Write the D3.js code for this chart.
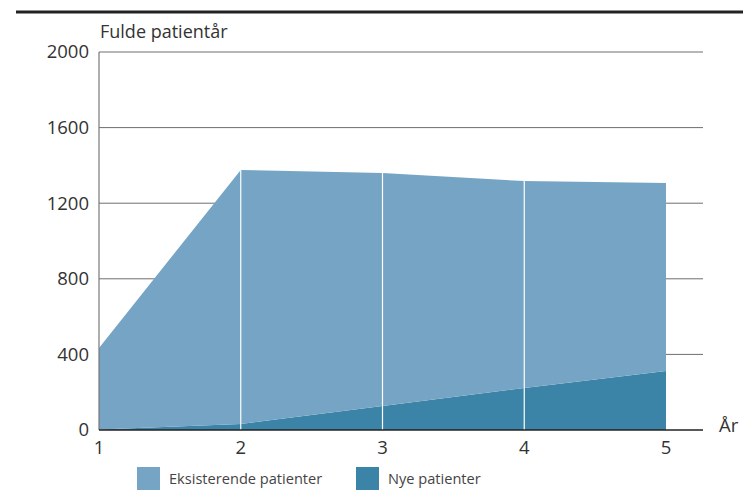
<!DOCTYPE html>
<html>
<head>
<meta charset="utf-8">
<script src="https://cdn.jsdelivr.net/npm/d3@7"></script>
<style>
  html, body { margin: 0; padding: 0; background: #fff; }
  svg { display: block; font-family: "Open Sans", "Noto Sans", sans-serif; }
</style>
</head>
<body>
<svg id="chart" width="743" height="499"></svg>
<script>
// Full patient-years per year, stacked: new patients at the bottom, existing on top
const years = [1, 2, 3, 4, 5];
const nyePatienter = [2, 32, 127, 222, 312];
const eksisterendePatienter = [432, 1344, 1233, 1095, 995];
const yTicks = [0, 400, 800, 1200, 1600, 2000];
const seriesNames = ["Nye patienter", "Eksisterende patienter"];
const seriesColors = ["#3b84a8", "#76a4c4"];

const svg = d3.select("#chart");
const margin = { left: 99, right: 666, top: 52, bottom: 430 };

const x = d3.scaleLinear().domain([1, 5]).range([margin.left, margin.right]);
const y = d3.scaleLinear().domain([0, 2000]).range([margin.bottom, margin.top]);

// Heavy rule across the top
svg.append("line")
  .attr("x1", 16).attr("x2", 743).attr("y1", 12).attr("y2", 12)
  .attr("stroke", "#222").attr("stroke-width", 3);

// Horizontal gridlines
svg.append("g")
  .selectAll("line")
  .data(yTicks.filter(d => d > 0))
  .join("line")
  .attr("x1", margin.left).attr("x2", 703)
  .attr("y1", d => y(d)).attr("y2", d => y(d))
  .attr("stroke", "#6e6e6e").attr("stroke-width", 1);

// Stacked areas
const rows = years.map((yr, i) => ({ year: yr, nye: nyePatienter[i], eks: eksisterendePatienter[i] }));
const stack = d3.stack().keys(["nye", "eks"]);
const layers = stack(rows);

const area = d3.area()
  .x(d => x(d.data.year))
  .y0(d => y(d[0]))
  .y1(d => y(d[1]));

svg.append("g")
  .selectAll("path")
  .data(layers)
  .join("path")
  .attr("d", area)
  .attr("fill", (d, i) => seriesColors[i]);

// White separators at interior years
svg.append("g")
  .selectAll("line")
  .data(rows.slice(1, -1))
  .join("line")
  .attr("x1", d => x(d.year)).attr("x2", d => x(d.year))
  .attr("y1", y(0)).attr("y2", d => y(d.nye + d.eks))
  .attr("stroke", "#fff").attr("stroke-width", 1.2);

// Y axis line
svg.append("line")
  .attr("x1", margin.left).attr("x2", margin.left)
  .attr("y1", y(2000)).attr("y2", y(0))
  .attr("stroke", "#777").attr("stroke-width", 1.2);

// X axis line
svg.append("line")
  .attr("x1", margin.left).attr("x2", 703)
  .attr("y1", y(0)).attr("y2", y(0))
  .attr("stroke", "#222").attr("stroke-width", 1.6);

// Y tick labels
svg.append("g")
  .selectAll("text")
  .data(yTicks)
  .join("text")
  .attr("x", 89)
  .attr("y", d => y(d))
  .attr("dy", "0.35em")
  .attr("text-anchor", "end")
  .attr("font-size", 18.5)
  .attr("fill", "#333")
  .text(d => d);

// X tick labels
svg.append("g")
  .selectAll("text")
  .data(years)
  .join("text")
  .attr("x", d => x(d))
  .attr("y", 454)
  .attr("text-anchor", "middle")
  .attr("font-size", 18.5)
  .attr("fill", "#333")
  .text(d => d);

// Axis titles
svg.append("text")
  .attr("x", 100).attr("y", 38)
  .attr("font-size", 18).attr("fill", "#333")
  .text("Fulde patientår");

svg.append("text")
  .attr("x", 719).attr("y", 432)
  .attr("font-size", 18.5).attr("fill", "#333")
  .text("År");

// Legend
const legendItems = [
  { name: seriesNames[1], color: seriesColors[1], x: 137 },
  { name: seriesNames[0], color: seriesColors[0], x: 356 }
];
const lg = svg.append("g")
  .selectAll("g")
  .data(legendItems)
  .join("g")
  .attr("transform", d => `translate(${d.x},467)`);
lg.append("rect")
  .attr("width", 23).attr("height", 23)
  .attr("fill", d => d.color);
lg.append("text")
  .attr("x", 32).attr("y", 12)
  .attr("dy", "0.35em")
  .attr("font-size", 14.6)
  .attr("fill", "#444")
  .text(d => d.name);
</script>
</body>
</html>
